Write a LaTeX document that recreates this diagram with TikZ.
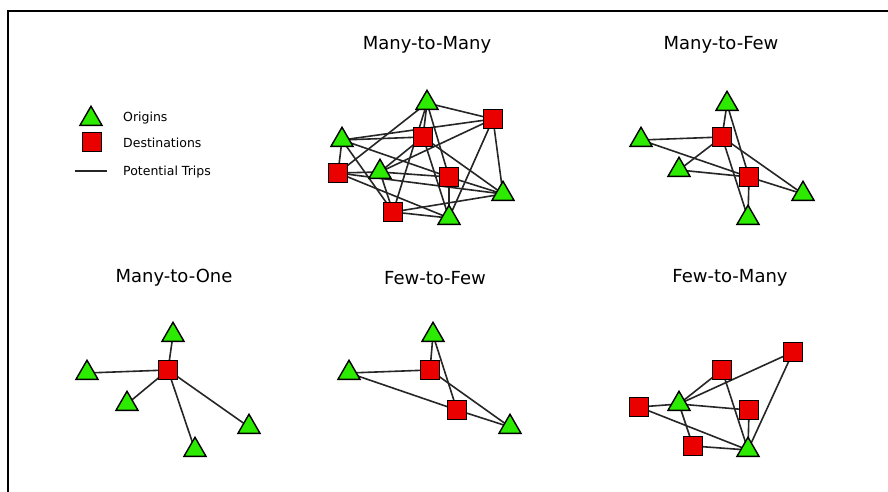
\documentclass[tikz,border=0pt]{standalone}
\usepackage{fontspec}
\setmainfont{DejaVu Sans}
\usetikzlibrary{shapes.geometric}
\pgfdeclarelayer{background}
\pgfsetlayers{background,main}
\definecolor{origgreen}{RGB}{45,235,0}
\definecolor{destred}{RGB}{235,0,0}
\tikzset{
  orig/.style={regular polygon, regular polygon sides=3, minimum size=25.5pt, inner sep=0pt,
    fill=origgreen, draw=black, line width=1.4pt, yshift=-3pt},
  dest/.style={rectangle, minimum size=18.5pt, inner sep=0pt, fill=destred, draw=black, line width=1.4pt},
  trip/.style={draw=black!85, line width=1.6pt},
  ttl/.style={font=\fontsize{18}{20}\selectfont, inner sep=0pt},
  lgd/.style={font=\fontsize{12.5}{14}\selectfont, anchor=west, inner sep=0pt}
}
\begin{document}
\begin{tikzpicture}[x=1pt,y=-1pt]
\useasboundingbox (0,0) rectangle (888,492);
\draw[line width=2pt] (7.5,492) -- (7.5,11.5) -- (888,11.5);

% legend
\node[orig] (lt) at (91,116) {};
\node[dest] (ls) at (92,142) {};
\coordinate (ll1) at (75,171);
\coordinate (ll2) at (107,171);
\draw[trip] (ll1) -- (ll2);
\node[lgd] (lo) at (123,118) {Origins};
\node[lgd] (ld) at (123,143) {Destinations};
\node[lgd] (lp) at (123,172) {Potential Trips};

% titles
\node[ttl] (t1) at (427,45) {Many-to-Many};
\node[ttl] (t2) at (721,45) {Many-to-Few};
\node[ttl] (t3) at (174,278) {Many-to-One};
\node[ttl] (t4) at (435,278) {Few-to-Few};
\node[ttl] (t5) at (730,278) {Few-to-Many};

% Many-to-Many
\node[dest] (b1) at (423,137) {};
\node[dest] (b2) at (493,119) {};
\node[dest] (b3) at (338,173) {};
\node[dest] (b4) at (449,177) {};
\node[dest] (b5) at (393,212) {};
\node[orig] (a1) at (427,100) {};
\node[orig] (a2) at (342,137) {};
\node[orig] (a3) at (380,169) {};
\node[orig] (a4) at (503,191) {};
\node[orig] (a5) at (449,215) {};

% Many-to-Few
\node[dest] (d1) at (722,137) {};
\node[dest] (d2) at (749,177) {};
\node[orig] (c1) at (727,101) {};
\node[orig] (c2) at (641,137) {};
\node[orig] (c3) at (679,167) {};
\node[orig] (c4) at (803,191) {};
\node[orig] (c5) at (748,215) {};

% Many-to-One
\node[dest] (e0) at (168,370) {};
\node[orig] (e1) at (173,332) {};
\node[orig] (e2) at (87,370) {};
\node[orig] (e3) at (127,401) {};
\node[orig] (e4) at (195,447) {};
\node[orig] (e5) at (249,424) {};

% Few-to-Few
\node[dest] (f1) at (430,370) {};
\node[dest] (f2) at (457,410) {};
\node[orig] (g1) at (433,332) {};
\node[orig] (g2) at (349,370) {};
\node[orig] (g3) at (510,424) {};

% Few-to-Many
\node[dest] (h1) at (793,352) {};
\node[dest] (h2) at (722,370) {};
\node[dest] (h3) at (639,407) {};
\node[dest] (h4) at (749,410) {};
\node[dest] (h5) at (693,446) {};
\node[orig] (k1) at (679,401) {};
\node[orig] (k2) at (748,447) {};

\begin{pgfonlayer}{background}
\fill[white] (0,0) rectangle (888,492);
\foreach \o in {a1,a2,a3,a4,a5} \foreach \d in {b1,b2,b3,b4,b5}
  \draw[trip] (\o.center) -- (\d.center);
\foreach \o in {c1,c2,c3,c4,c5} \foreach \d in {d1,d2}
  \draw[trip] (\o.center) -- (\d.center);
\foreach \o in {e1,e2,e3,e4,e5}
  \draw[trip] (\o.center) -- (e0.center);
\foreach \o in {g1,g2,g3} \foreach \d in {f1,f2}
  \draw[trip] (\o.center) -- (\d.center);
\foreach \o in {k1,k2} \foreach \d in {h1,h2,h3,h4,h5}
  \draw[trip] (\o.center) -- (\d.center);
\end{pgfonlayer}
\end{tikzpicture}
\end{document}
